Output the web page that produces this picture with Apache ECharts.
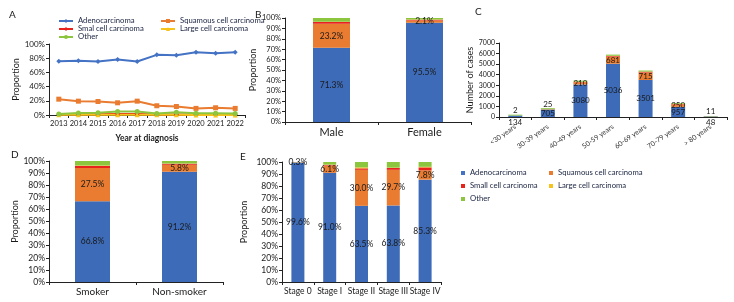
<!DOCTYPE html>
<html>
<head>
<meta charset="utf-8">
<script src="https://cdn.jsdelivr.net/npm/echarts@6/dist/echarts.min.js"></script>
<style>
  html, body { margin: 0; padding: 0; background: #fff; }
  #main { width: 734px; height: 302px; }
</style>
</head>
<body>
<div id="main"></div>
<script>
// A: proportion by year
const years = ['2013', '2014', '2015', '2016', '2017', '2018', '2019', '2020', '2021', '2022'];
const trendAdeno = [75.8, 76.5, 75.5, 78.1, 75.3, 84.7, 84.2, 88.4, 87.0, 88.4];
const trendSquamous = [22.3, 19.5, 19.0, 17.2, 19.5, 13.0, 12.0, 9.3, 10.2, 9.3];
const trendSmall = [1.2, 1.0, 1.2, 1.5, 1.5, 0.8, 0.8, 0.7, 0.7, 0.7];
const trendLarge = [0.3, 0.3, 0.3, 0.3, 0.2, 0.2, 0.2, 0.1, 0.1, 0.1];
const trendOther = [1.5, 2.8, 3.0, 5.0, 5.0, 2.0, 4.0, 2.5, 2.5, 2.0];

// B: by sex (%)
const sexCats = ['Male', 'Female'];
const sexAdeno = [71.3, 95.5];
const sexSquamous = [23.2, 2.1];
const sexSmall = [1.6, 0.8];
const sexLarge = [0.4, 0.2];
const sexOther = [3.5, 1.4];

// C: by age (cases)
const ageCats = ['<30 years', '30-39 years', '40-49 years', '50-59 years', '60-69 years', '70-79 years', '> 80 years'];
const ageAdeno = [134, 705, 3080, 5036, 3501, 957, 48];
const ageSquamous = [2, 25, 210, 681, 715, 250, 11];
const ageSmall = [3, 10, 40, 60, 70, 40, 3];
const ageLarge = [1, 3, 10, 15, 12, 5, 1];
const ageOther = [80, 90, 100, 110, 100, 70, 30];

// D: by smoking (%)
const smokeCats = ['Smoker', 'Non-smoker'];
const smokeAdeno = [66.8, 91.2];
const smokeSquamous = [27.5, 5.8];
const smokeSmall = [1.6, 0.8];
const smokeLarge = [0.4, 0.2];
const smokeOther = [3.7, 2.0];

// E: by stage (%)
const stageCats = ['Stage 0', 'Stage I', 'Stage II', 'Stage III', 'Stage IV'];
const stageAdeno = [99.6, 91.0, 63.5, 63.8, 85.3];
const stageSquamous = [0.3, 6.1, 30.0, 29.7, 7.8];
const stageSmall = [0, 0.5, 1.2, 1.5, 2.4];
const stageLarge = [0, 0.2, 0.8, 0.3, 0.5];
const stageOther = [0.1, 2.2, 4.5, 4.7, 4.0];

const FONT = 'Lato';
const BLUE = '#3d6bb7';
const ORANGE = '#e97c30';
const RED = '#e8231c';
const YELLOW = '#f7c21a';
const GREEN = '#8cc63e';
const TXT = '#1a1a1a';

const grids = [
  {left: 49, top: 44, width: 196, height: 71},   // A
  {left: 285, top: 18, width: 186, height: 104}, // B
  {left: 499, top: 43, width: 228, height: 74},  // C
  {left: 49, top: 161, width: 174, height: 121}, // D
  {left: 282, top: 162, width: 159, height: 120} // E
];

const axisLine = {show: true, lineStyle: {color: '#222', width: 1}};

function catAxis(gridIndex, data, fontSize, extra) {
  return Object.assign({
    type: 'category', gridIndex: gridIndex, data: data,
    axisLine: axisLine,
    axisTick: {show: true, length: 3, lineStyle: {color: '#222'}},
    axisLabel: {fontFamily: FONT, fontSize: fontSize, color: TXT, margin: 5, interval: 0}
  }, extra || {});
}

function valAxis(gridIndex, max, interval, fmt, name, nameGap, fontSize) {
  return {
    type: 'value', gridIndex: gridIndex, min: 0, max: max, interval: interval,
    name: name, nameLocation: 'middle', nameGap: nameGap,
    nameTextStyle: {fontFamily: FONT, fontSize: 9, color: TXT},
    axisLine: axisLine,
    axisTick: {show: true, length: 3, lineStyle: {color: '#222'}},
    splitLine: {show: false},
    axisLabel: {fontFamily: FONT, fontSize: fontSize, color: TXT, margin: 4, formatter: fmt}
  };
}

function pctLabel(p) { return p.value.toFixed(1) + '%'; }

// five stacked bar series for one panel
function stackSeries(axisIdx, stack, barWidth, vals, labelFn) {
  const names = ['Adenocarcinoma', 'Squamous cell carcinoma', 'Small cell carcinoma', 'Large cell carcinoma', 'Other'];
  const colors = [BLUE, ORANGE, RED, YELLOW, GREEN];
  return vals.map((arr, i) => ({
    type: 'bar', name: names[i], stack: stack,
    xAxisIndex: axisIdx, yAxisIndex: axisIdx,
    barWidth: barWidth,
    itemStyle: {color: colors[i]},
    data: labelFn ? labelFn(i, arr) : arr,
    label: {
      show: i < 2, position: 'inside', fontFamily: FONT, fontSize: 8.5, color: TXT,
      formatter: pctLabel
    }
  }));
}

function lineSeries(name, data, color, symbol) {
  return {
    type: 'line', name: name, data: data, xAxisIndex: 0, yAxisIndex: 0,
    color: color, symbol: symbol, symbolSize: 5,
    lineStyle: {width: 2, color: color}, itemStyle: {color: color}
  };
}

// age panel: small counts get their label outside the bar
function ageLabels(i, arr) {
  if (i === 0) {
    return arr.map(v => v < 300 ? {value: v, label: {position: 'bottom', distance: 1}} : v);
  }
  if (i === 1) {
    return arr.map(v => v < 100 ? {value: v, label: {position: 'top', distance: 1}} : v);
  }
  return arr;
}

const ageSeries = stackSeries(2, 'age', 14, [ageAdeno, ageSquamous, ageSmall, ageLarge, ageOther], ageLabels);
ageSeries.forEach(s => { s.label.formatter = '{c}'; s.label.fontSize = 8; });

const panelTitle = (t, left, top) => ({
  text: t, left: left, top: top,
  textStyle: {fontFamily: FONT, fontSize: 10, fontWeight: 'normal', color: TXT}
});

const legendText = {fontFamily: FONT, fontSize: 7.7, color: '#1a2340'};

const option = {
  animation: false,
  title: [
    panelTitle('A', 4, 5), panelTitle('B', 250, 5), panelTitle('C', 470, 2),
    panelTitle('D', 6, 145), panelTitle('E', 235, 147)
  ],
  legend: [
    {left: 53, top: 12, orient: 'vertical', itemWidth: 14, itemHeight: 5, itemGap: 0,
      textStyle: Object.assign({lineHeight: 8}, legendText),
      data: ['Adenocarcinoma', 'Smal cell carcinoma', 'Other']},
    {left: 155, top: 12, orient: 'vertical', itemWidth: 14, itemHeight: 5, itemGap: 0,
      textStyle: Object.assign({lineHeight: 8}, legendText),
      data: ['Squamous cell carcinoma', 'Large cell carcinoma']},
    {left: 456, top: 162, orient: 'vertical', icon: 'rect', itemWidth: 4, itemHeight: 4, itemGap: 1,
      textStyle: Object.assign({lineHeight: 12}, legendText),
      data: ['Adenocarcinoma', 'Small cell carcinoma', 'Other']},
    {left: 544, top: 162, orient: 'vertical', icon: 'rect', itemWidth: 4, itemHeight: 4, itemGap: 1,
      textStyle: Object.assign({lineHeight: 12}, legendText),
      data: ['Squamous cell carcinoma', 'Large cell carcinoma']}
  ],
  grid: grids,
  xAxis: [
    catAxis(0, years, 7.5, {name: 'Year at diagnosis', nameLocation: 'middle', nameGap: 19,
      nameTextStyle: {fontFamily: FONT, fontSize: 8.5, color: TXT, fontWeight: 'bold'}}),
    catAxis(1, sexCats, 11),
    catAxis(2, ageCats, 7, {axisLabel: {fontFamily: FONT, fontSize: 7, color: '#333', rotate: 35, margin: 9, interval: 0}}),
    catAxis(3, smokeCats, 10),
    catAxis(4, stageCats, 8.5)
  ],
  yAxis: [
    valAxis(0, 100, 20, '{value}%', 'Proportion', 16, 8),
    valAxis(1, 100, 10, '{value}%', 'Proportion', 19, 7.5),
    valAxis(2, 7000, 1000, v => String(v), 'Number of cases', 17, 7),
    valAxis(3, 100, 10, '{value}%', 'Proportion', 23, 8.5),
    valAxis(4, 100, 10, '{value}%', 'Proportion', 33, 8.5)
  ],
  series: [
    lineSeries('Adenocarcinoma', trendAdeno, '#4472c4', 'diamond'),
    lineSeries('Squamous cell carcinoma', trendSquamous, ORANGE, 'rect'),
    lineSeries('Smal cell carcinoma', trendSmall, RED, 'diamond'),
    lineSeries('Large cell carcinoma', trendLarge, YELLOW, 'triangle'),
    lineSeries('Other', trendOther, GREEN, 'circle')
  ]
    .concat(stackSeries(1, 'sex', 37, [sexAdeno, sexSquamous, sexSmall, sexLarge, sexOther]))
    .concat(ageSeries)
    .concat(stackSeries(3, 'smoke', 35, [smokeAdeno, smokeSquamous, smokeSmall, smokeLarge, smokeOther]))
    .concat(stackSeries(4, 'stage', 13, [stageAdeno, stageSquamous, stageSmall, stageLarge, stageOther]))
};

const myChart = echarts.init(document.getElementById('main'));
myChart.setOption(option);
</script>
</body>
</html>
